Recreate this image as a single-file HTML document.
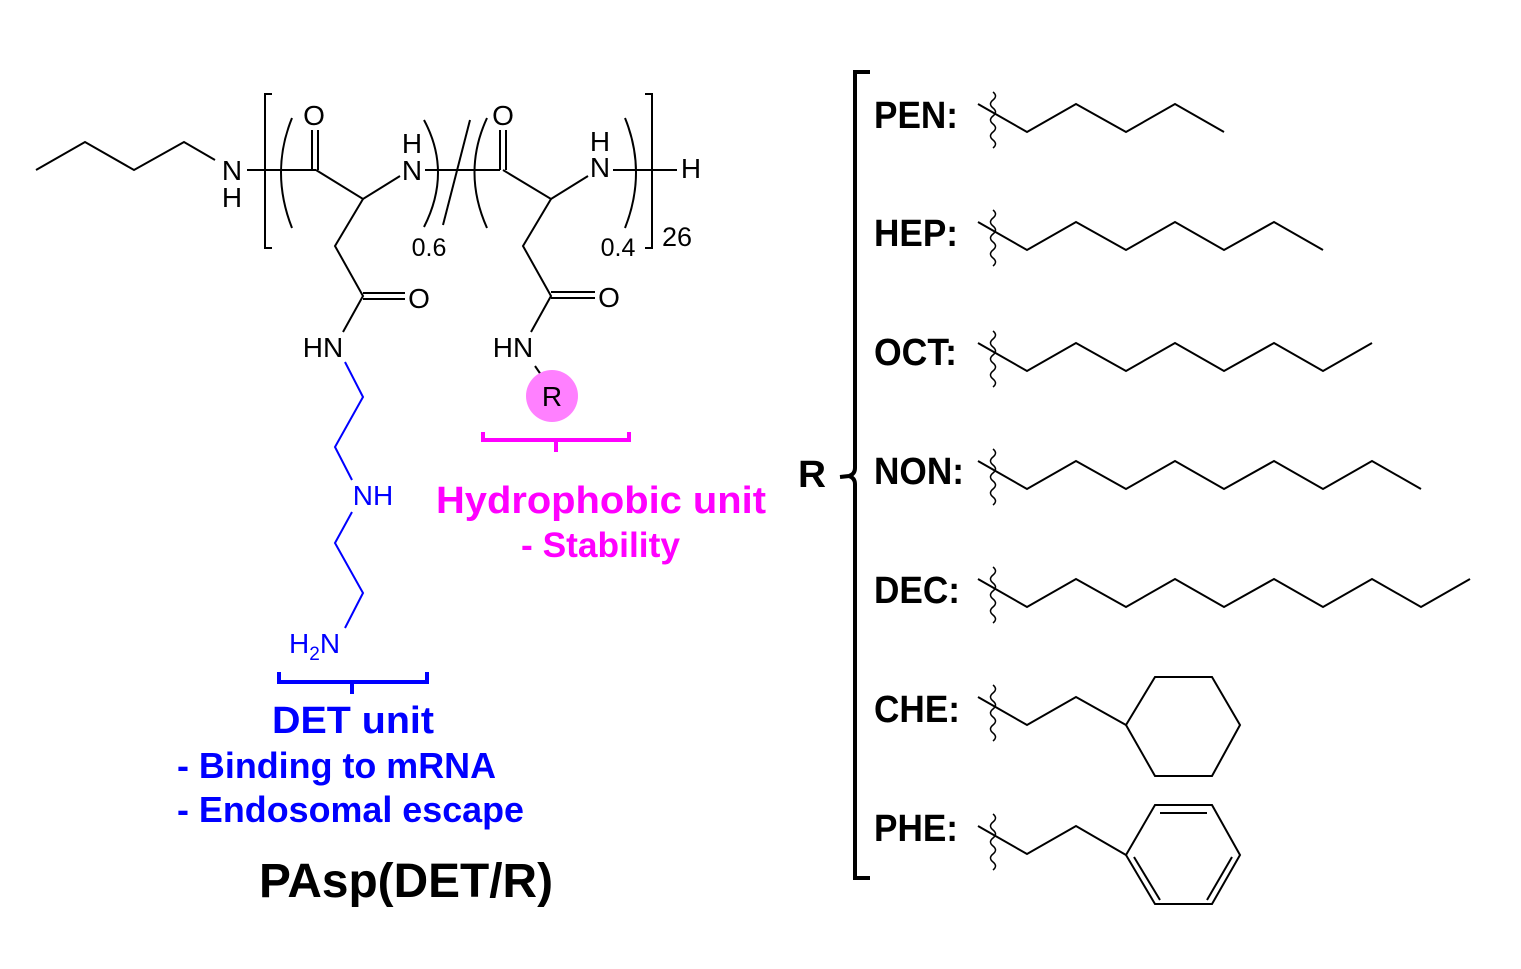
<!DOCTYPE html>
<html><head><meta charset="utf-8"><style>
html,body{margin:0;padding:0;background:#fff;width:1521px;height:969px;overflow:hidden}
svg{display:block}
text{font-family:"Liberation Sans",Arial,sans-serif}
</style></head><body>
<svg width="1521" height="969" viewBox="0 0 1521 969" xmlns="http://www.w3.org/2000/svg">
<defs>
<path id="wv" d="M0,-21 q5,4 0,8 q-5,4 0,8 q5,4 0,8 q-5,4 0,8 q5,4 0,8 q-5,4 0,8 q5,4 0,8" fill="none" stroke="#000" stroke-width="1.5"/>
</defs>
<g fill="none" stroke="#000" stroke-width="2">
<polyline points="36,170 85,142 134,170 184,142 215,160"/>
<line x1="247" y1="170" x2="316" y2="170"/>
<polyline points="272,94 265,94 265,248 272,248"/>
<polyline points="645,94 652,94 652,248 645,248"/>
<path d="M292,118 Q270,172 292,228"/>
<path d="M424,120 Q452,172 424,227"/>
<path d="M487,118 Q462,172 487,228"/>
<path d="M625,118 Q647,172 625,228"/>
<line x1="470" y1="120" x2="443" y2="225"/>
<line x1="312" y1="130" x2="312" y2="170"/><line x1="318" y1="130" x2="318" y2="170"/>
<polyline points="316,170 363,199 400,176"/>
<line x1="425" y1="170" x2="500" y2="170"/>
<polyline points="363,199 335,246 363,296 343,332"/>
<line x1="363" y1="293" x2="405" y2="293"/><line x1="363" y1="299" x2="405" y2="299"/>
<line x1="500" y1="130" x2="500" y2="170"/><line x1="506" y1="130" x2="506" y2="170"/>
<polyline points="503,170 551,199 588,176"/>
<line x1="613" y1="170" x2="677" y2="170"/>
<polyline points="551,199 523,246 551,296 531,332"/>
<line x1="551" y1="292" x2="595" y2="292"/><line x1="551" y1="298" x2="595" y2="298"/>
<line x1="535" y1="366" x2="546" y2="382"/>
</g>
<g fill="none" stroke="#0000ff" stroke-width="2">
<polyline points="345,362 363,397 335,447 352,480"/>
<polyline points="352,512 335,543 363,593 345,628"/>
<path d="M279,672 v10 h148 v-10 M352,682 v12" stroke-width="4"/>
</g>
<path d="M483,432 v8 h146 v-8 M556,440 v12" fill="none" stroke="#ff00ff" stroke-width="4"/>
<circle cx="552" cy="396" r="26" fill="#ff80ff"/>
<g font-size="28" fill="#000">
<text x="232" y="180" text-anchor="middle">N</text>
<text x="232" y="207" text-anchor="middle">H</text>
<text x="314" y="125" text-anchor="middle">O</text>
<text x="412" y="180" text-anchor="middle">N</text>
<text x="412" y="153" text-anchor="middle">H</text>
<text x="503" y="125" text-anchor="middle">O</text>
<text x="600" y="177" text-anchor="middle">N</text>
<text x="600" y="151" text-anchor="middle">H</text>
<text x="691" y="178" text-anchor="middle">H</text>
<text x="419" y="308" text-anchor="middle">O</text>
<text x="609" y="307" text-anchor="middle">O</text>
<text x="323" y="357" text-anchor="middle">HN</text>
<text x="513" y="357" text-anchor="middle">HN</text>
<text x="552" y="406" text-anchor="middle">R</text>
<text x="429" y="256" text-anchor="middle" font-size="25">0.6</text>
<text x="618" y="256" text-anchor="middle" font-size="25">0.4</text>
<text x="677" y="246" text-anchor="middle" font-size="27">26</text>
</g>
<g font-size="28" fill="#0000ff">
<text x="373" y="505" text-anchor="middle">NH</text>
<text x="289" y="653">H<tspan font-size="19" dy="7">2</tspan><tspan dy="-7">N</tspan></text>
<text x="272" y="733" font-size="38" font-weight="bold" textLength="162" lengthAdjust="spacingAndGlyphs">DET unit</text>
<text x="177" y="778" font-size="36" font-weight="bold" textLength="319" lengthAdjust="spacingAndGlyphs">- Binding to mRNA</text>
<text x="177" y="822" font-size="36" font-weight="bold" textLength="347" lengthAdjust="spacingAndGlyphs">- Endosomal escape</text>
</g>
<g fill="#ff00ff" font-weight="bold">
<text x="436" y="513" font-size="38" textLength="330" lengthAdjust="spacingAndGlyphs">Hydrophobic unit</text>
<text x="521" y="557" font-size="35" textLength="159" lengthAdjust="spacingAndGlyphs">- Stability</text>
</g>
<text x="259" y="897" font-size="48" font-weight="bold" textLength="294" lengthAdjust="spacingAndGlyphs">PAsp(DET/R)</text>
<path d="M870,72 h-15 v396 q0,6 -6,8 l-9,1 M849,476 q6,2 6,8 v394 h15" fill="none" stroke="#000" stroke-width="4"/>
<text x="798" y="487" font-size="38" font-weight="bold" textLength="28" lengthAdjust="spacingAndGlyphs">R</text>
<g font-size="38" font-weight="bold" fill="#000">
<text x="874" y="128" textLength="84" lengthAdjust="spacingAndGlyphs">PEN:</text>
<text x="874" y="246" textLength="84" lengthAdjust="spacingAndGlyphs">HEP:</text>
<text x="874" y="365" textLength="83" lengthAdjust="spacingAndGlyphs">OCT:</text>
<text x="874" y="484" textLength="90" lengthAdjust="spacingAndGlyphs">NON:</text>
<text x="874" y="603" textLength="86" lengthAdjust="spacingAndGlyphs">DEC:</text>
<text x="874" y="722" textLength="86" lengthAdjust="spacingAndGlyphs">CHE:</text>
<text x="874" y="841" textLength="84" lengthAdjust="spacingAndGlyphs">PHE:</text>
</g>
<g fill="none" stroke="#000" stroke-width="2">
<polyline points="978,104 1027,132 1076,104 1126,132 1175,104 1224,132"/>
<polyline points="978,222 1027,250 1076,222 1126,250 1175,222 1224,250 1274,222 1323,250"/>
<polyline points="978,343 1027,371 1076,343 1126,371 1175,343 1224,371 1274,343 1323,371 1372,343"/>
<polyline points="978,461 1027,489 1076,461 1126,489 1175,461 1224,489 1274,461 1323,489 1372,461 1421,489"/>
<polyline points="978,579 1027,607 1076,579 1126,607 1175,579 1224,607 1274,579 1323,607 1372,579 1421,607 1470,579"/>
<polyline points="978,697 1027,725 1076,697 1126,725"/>
<polygon points="1126,725 1155,677 1212,677 1240,725 1212,776 1155,776"/>
<polyline points="978,826 1027,854 1076,826 1126,855"/>
<polygon points="1126,855 1155,805 1212,805 1240,855 1212,904 1155,904"/>
<line x1="1160" y1="813" x2="1207" y2="813"/>
<line x1="1134" y1="857" x2="1160" y2="900"/>
<line x1="1232" y1="857" x2="1207" y2="900"/>
</g>
<use href="#wv" x="993" y="113"/>
<use href="#wv" x="993" y="231"/>
<use href="#wv" x="993" y="352"/>
<use href="#wv" x="993" y="470"/>
<use href="#wv" x="993" y="588"/>
<use href="#wv" x="993" y="706"/>
<use href="#wv" x="993" y="835"/>
</svg>
</body></html>
